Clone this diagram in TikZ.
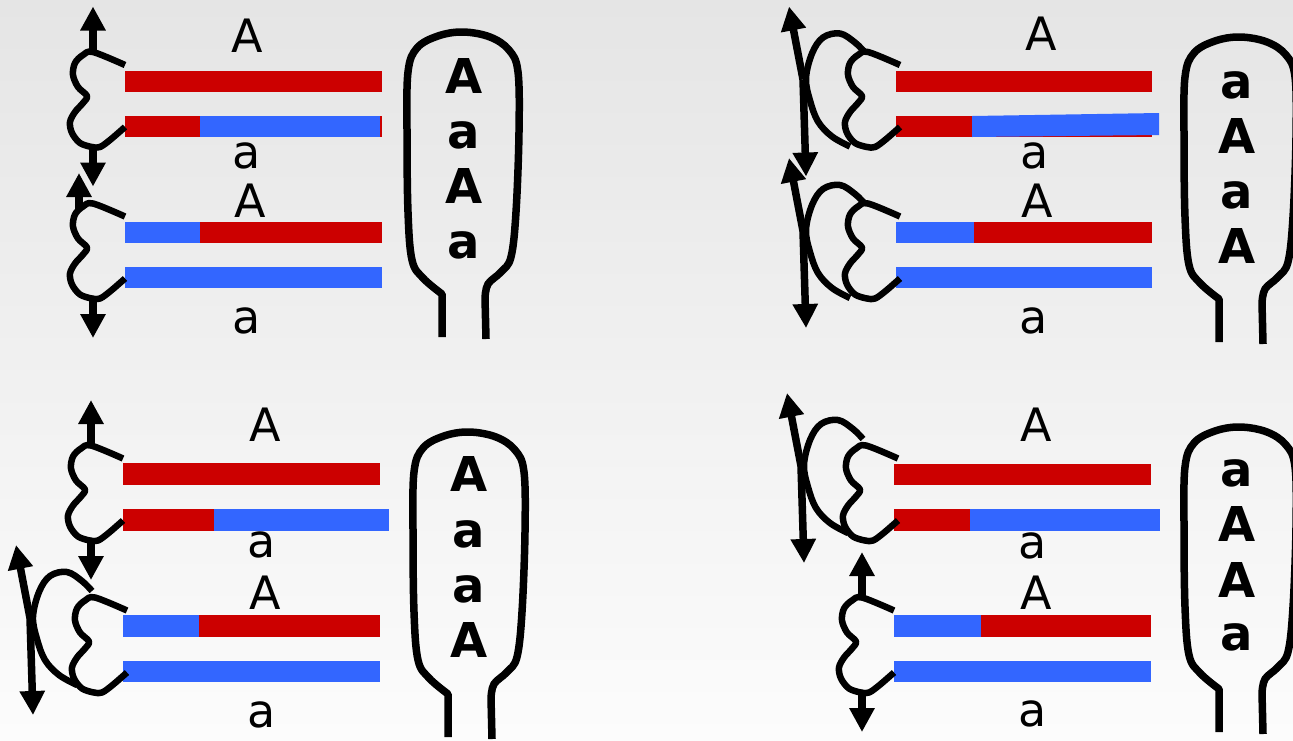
\documentclass[tikz,border=0pt]{standalone}
\usepackage{fontspec}
\setmainfont{DejaVu Sans}
\usetikzlibrary{arrows.meta}
\definecolor{chrred}{RGB}{204,0,0}
\definecolor{chrblue}{RGB}{51,102,255}
\definecolor{bgtop}{RGB}{229,229,229}
\definecolor{bgbot}{RGB}{252,252,252}

\tikzset{
  chromo/.style={line width=6.5pt, line cap=butt, line join=round},
  spindle/.style={line width=7.5pt, -{Triangle[length=24pt 0,width=24pt 0]}},
  sacline/.style={line width=7.5pt, line cap=butt, line join=round},
  allele/.style={font=\fontsize{46}{46}\selectfont, anchor=base, inner sep=0pt},
  spore/.style={font=\fontsize{48}{48}\selectfont\bfseries, anchor=base, inner sep=0pt},
  redseg/.style={fill=chrred},
  blueseg/.style={fill=chrblue},
  % centromere outline of a chromatid pair, origin at the left end of the pair
  squig/.pic={
    \draw[chromo] plot[smooth, tension=0.55] coordinates {(0,-38.5) (-32,-51.5) (-42,-48.5) (-50,-40.5) (-52,-28.5) (-47,-16.5) (-38,-7.5) (-42,-0.5) (-50,8.5) (-55,18.5) (-53,29.5) (-45,39.5) (-33,43.5) (-25,43.5) (-15,36.5) (0,23.5)};
    \coordinate (-top) at (-32,-50);
    \coordinate (-bot) at (-32,42);
    \coordinate (-uptip) at (-32,-97);
    \coordinate (-dntip) at (-32,83);
  },
  % the same pair with its partner swung round on the other side
  loopsq/.pic={
    \pic at (4,0) {squig};
    \begin{scope}[shift={(0,#1)}]
      \draw[chromo] plot[smooth, tension=0.6] coordinates {(-31,-51) (-41,-61) (-56,-70) (-73,-66) (-84,-50) (-90,-25) (-86,-3) (-78,18) (-64,33) (-46,43)};
      \coordinate (-cross) at (-93,-24);
      \coordinate (-uptip) at (-107,-97);
      \coordinate (-dntip) at (-90,73);
    \end{scope}
  },
  % ascus outline, origin at the top centre
  sac/.pic={
    \draw[sacline] (-21,305) -- plot[smooth, tension=0.6] coordinates {(-21,262) (-40,246) (-51,228) (-55,180) (-56,100) (-55,40) (-46,16) (-25,4) (0,0) (27,5) (46,18) (55,40) (56,100) (53,180) (48,225) (38,240) (25,252) (22,266)} -- (23,307);
  },
}

\begin{document}
\begin{tikzpicture}[x=1pt, y=-1pt]
\shade[top color=bgtop, bottom color=bgbot] (0,0) rectangle (1293,740);
\useasboundingbox (0,0) rectangle (1293,740);

% ---------- upper left ----------
\fill[redseg]  (125,71)  rectangle (382,92);
\fill[redseg]  (125,116) rectangle (382,137);
\fill[blueseg] (200,116) rectangle (380,137);
\fill[redseg]  (125,222) rectangle (382,243);
\fill[blueseg] (125,222) rectangle (200,243);
\fill[blueseg] (125,267) rectangle (382,288);
\pic (tla) at (125,103.5) {squig};
\pic (tlb) at (125,255) {squig};
\coordinate (tlb-upfoot) at (79,209);
\coordinate (tlb-up) at (79,173);
\draw[spindle] (tla-top) -- (tla-uptip);
\draw[spindle] (tla-bot) -- (tla-dntip);
\draw[spindle] (tlb-upfoot) -- (tlb-up);
\draw[spindle] (tlb-bot) -- (tlb-dntip);
\node[allele] (tlA1) at (247,52) {A};
\node[allele] (tla1) at (247,168) {a};
\node[allele] (tlA2) at (250,217) {A};
\node[allele] (tla2) at (247,333) {a};
\pic (sactl) at (463,32) {sac};
\node[spore] (tls1) at (464,93) {A};
\node[spore] (tls2) at (464,148) {a};
\node[spore] (tls3) at (464,203) {A};
\node[spore] (tls4) at (464,258) {a};

% ---------- upper right ----------
\fill[redseg]  (896,71)  rectangle (1152,92);
\fill[redseg]  (896,116) rectangle (1152,137);
\fill[blueseg] (972,116) -- (1159,113) -- (1159,135) -- (972,137) -- cycle;
\fill[redseg]  (896,222) rectangle (1152,243);
\fill[blueseg] (896,222) rectangle (974,243);
\fill[blueseg] (896,267) rectangle (1152,288);
\pic (tra) at (896,103.5) {loopsq=0};
\pic (trb) at (896,255) {loopsq=0};
\draw[spindle] (tra-cross) -- (tra-uptip);
\draw[spindle] (tra-cross) -- (tra-dntip);
\draw[spindle] (trb-cross) -- (trb-uptip);
\draw[spindle] (trb-cross) -- (trb-dntip);
\node[allele] (trA1) at (1041,50) {A};
\node[allele] (tra1) at (1035,168) {a};
\node[allele] (trA2) at (1037,217) {A};
\node[allele] (tra2) at (1034,333) {a};
\pic (sactr) at (1240,37) {sac};
\node[spore] (trs1) at (1237,98) {a};
\node[spore] (trs2) at (1237,153) {A};
\node[spore] (trs3) at (1237,208) {a};
\node[spore] (trs4) at (1237,263) {A};

% ---------- lower left ----------
\fill[redseg]  (123,463) rectangle (380,485);
\fill[redseg]  (123,509) rectangle (380,531);
\fill[blueseg] (214,509) rectangle (389,531);
\fill[redseg]  (123,615) rectangle (380,637);
\fill[blueseg] (123,615) rectangle (199,637);
\fill[blueseg] (123,661) rectangle (380,682);
\pic (bla) at (123,497) {squig};
\pic (blb) at (123,649) {loopsq=-7};
\draw[spindle] (bla-top) -- (bla-uptip);
\draw[spindle] (bla-bot) -- (bla-dntip);
\draw[spindle] (blb-cross) -- (blb-uptip);
\draw[spindle] (blb-cross) -- (blb-dntip);
\node[allele] (blA1) at (265,441) {A};
\node[allele] (bla1) at (262,557) {a};
\node[allele] (blA2) at (265,609) {A};
\node[allele] (bla2) at (262,727) {a};
\pic (sacbl) at (469,432) {sac};
\node[spore] (bls1) at (469,491) {A};
\node[spore] (bls2) at (469,547) {a};
\node[spore] (bls3) at (469,602) {a};
\node[spore] (bls4) at (469,657) {A};

% ---------- lower right ----------
\fill[redseg]  (894,464) rectangle (1151,485);
\fill[redseg]  (894,509) rectangle (1151,531);
\fill[blueseg] (970,509) rectangle (1160,531);
\fill[redseg]  (894,615) rectangle (1151,637);
\fill[blueseg] (894,615) rectangle (981,637);
\fill[blueseg] (894,661) rectangle (1151,682);
\pic (bra) at (894,497) {loopsq=-7};
\pic (brb) at (894,649) {squig};
\draw[spindle] (bra-cross) -- (bra-uptip);
\draw[spindle] (bra-cross) -- (bra-dntip);
\draw[spindle] (brb-top) -- (brb-uptip);
\draw[spindle] (brb-bot) -- (brb-dntip);
\node[allele] (brA1) at (1036,441) {A};
\node[allele] (bra1) at (1033,558) {a};
\node[allele] (brA2) at (1036,609) {A};
\node[allele] (bra2) at (1033,726) {a};
\pic (sacbr) at (1240,427) {sac};
\node[spore] (brs1) at (1237,486) {a};
\node[spore] (brs2) at (1237,541) {A};
\node[spore] (brs3) at (1237,597) {A};
\node[spore] (brs4) at (1237,650) {a};
\end{tikzpicture}
\end{document}
